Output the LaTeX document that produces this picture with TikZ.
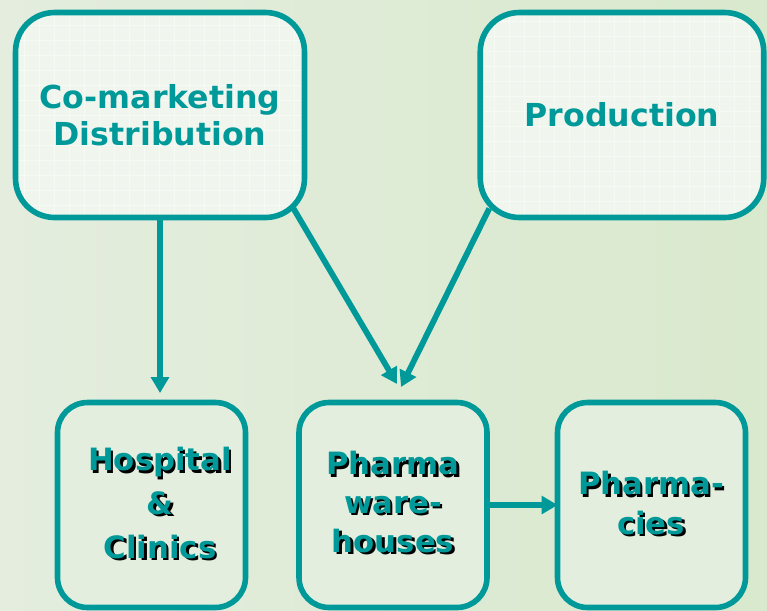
\documentclass[tikz,border=0pt]{standalone}
\usepackage{fontspec}
\setmainfont{DejaVu Sans}
\usetikzlibrary{arrows.meta}

\definecolor{flowteal}{RGB}{0,153,153}
\definecolor{bgleft}{RGB}{228,237,222}
\definecolor{bgright}{RGB}{217,233,205}
\definecolor{topfill}{RGB}{240,246,238}
\definecolor{lowfill}{RGB}{228,238,222}

\begin{document}
\begin{tikzpicture}[x=0.02cm, y=-0.02cm,
      topbox/.style={draw=flowteal, line width=3.2pt, rounded corners=0.78cm, fill=topfill,
        outer sep=0pt, minimum width=5.78cm, minimum height=4.1cm, text=flowteal,
        font=\bfseries\fontsize{18}{21}\selectfont, align=center,
        path picture={\draw[white, line width=0.5pt, opacity=0.45, step=0.3cm]
          (path picture bounding box.south west) grid (path picture bounding box.north east);}},
      lowbox/.style={draw=flowteal, line width=3.2pt, rounded corners=0.6cm, fill=lowfill,
        outer sep=0pt, minimum width=3.76cm, minimum height=4.1cm},
      lowtxt/.style={text=flowteal, font=\bfseries\fontsize{17.5}{#1}\selectfont, align=center},
      lowshadow/.style={lowtxt=#1, text=black},
      flow/.style={draw=flowteal, line width=3.3pt, -{Triangle[width=10pt, length=9pt]}}]
    % background
    \shade[left color=bgleft, right color=bgright] (0,0) rectangle (767,610);
    \useasboundingbox (0,0) rectangle (767,610);

    % upper row
    \node[topbox] (comark) at (160,115) {Co-marketing\\Distribution};
    \node[topbox, minimum width=5.67cm] (prod) at (622,115) {Production};

    % lower row
    \node[lowbox] (hosp) at (151.5,505) {};
    \node[lowbox] (wareh) at (393,505) {};
    \node[lowbox] (pharm) at (651.5,505) {};

    % shadowed labels
    \node[lowshadow=25] (hospsh) at (162.5,505.5) {Hospital\\\&\\Clinics};
    \node[lowtxt=25] (hosptx) at (160,503) {Hospital\\\&\\Clinics};
    \node[lowshadow=22] (waresh) at (395.5,504.5) {Pharma\\ware-\\houses};
    \node[lowtxt=22] (waretx) at (393,502) {Pharma\\ware-\\houses};
    \node[lowshadow=22.7] (pharmsh) at (653.5,505.5) {Pharma-\\cies};
    \node[lowtxt=22.7] (pharmtx) at (651,503) {Pharma-\\cies};

    % arrow ends
    \coordinate (hospin) at (160,393);
    \coordinate (wareina) at (397,384);
    \coordinate (wareinb) at (401,387);

    \draw[flow] (comark.south) -- (hospin);
    \draw[flow] ([shift={(-11,-9)}]comark.south east) -- (wareina); % co-marketing - warehouses
    \draw[flow] ([shift={(9,-9)}]prod.south west) -- (wareinb); % production - warehouses
    \draw[flow] (wareh.east) -- (pharm.west);
\end{tikzpicture}
\end{document}
